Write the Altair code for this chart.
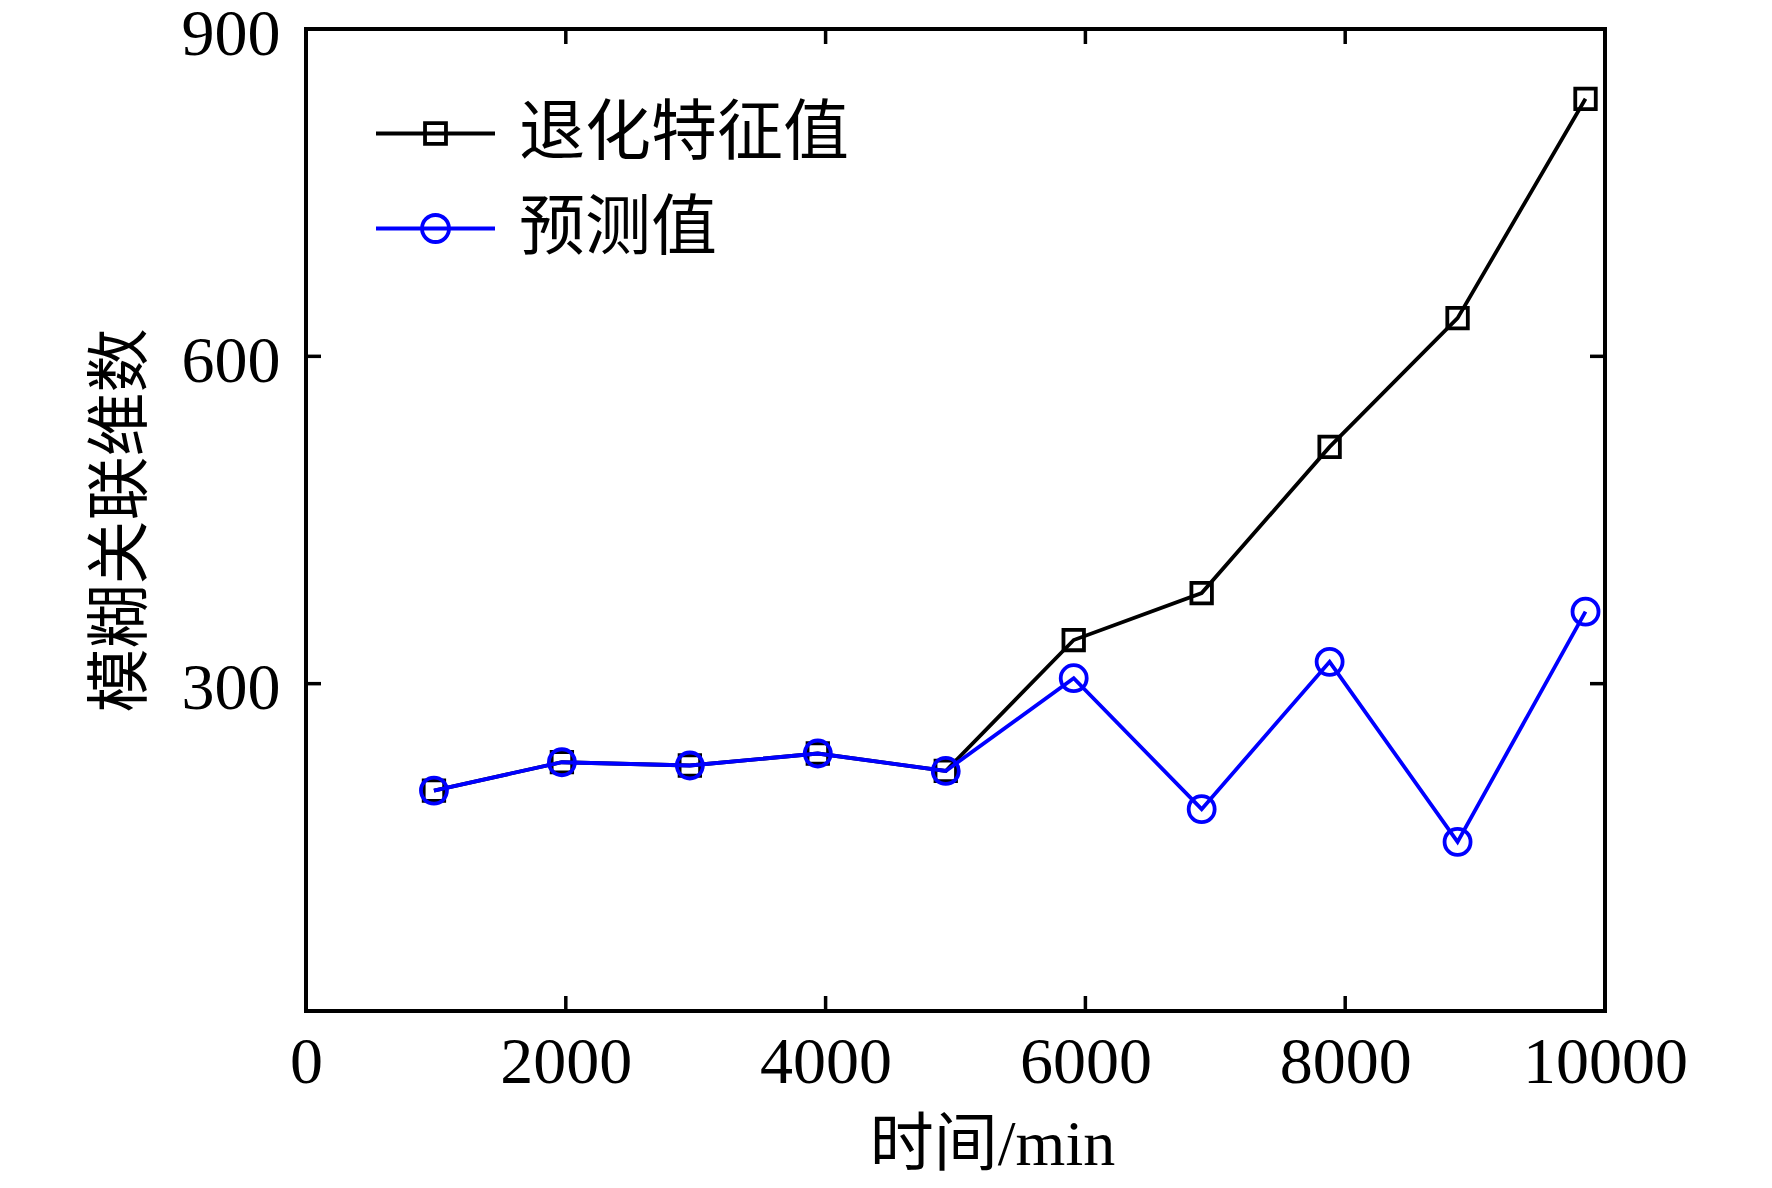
import altair as alt
import pandas as pd

# ---- data ----
times = [985, 1970, 2955, 3940, 4925, 5910, 6895, 7880, 8865, 9850]
degradation = [202, 228, 225, 236, 220, 340, 383, 517, 635, 836]
predicted = [202, 228, 225, 236, 220, 305, 185, 320, 155, 366]
series_names = ["退化特征值", "预测值"]
series_colors = ["#000000", "#0000ff"]
x_labels = [0, 2000, 4000, 6000, 8000, 10000]
y_labels = [300, 600, 900]
inner_x_ticks = [2000, 4000, 6000, 8000]
inner_y_ticks = [300, 600]

df = pd.DataFrame({
    "time": times * 2,
    "value": degradation + predicted,
    "series": [series_names[0]] * len(times) + [series_names[1]] * len(times),
})
xt = pd.DataFrame({"time": inner_x_ticks})
yt = pd.DataFrame({"value": inner_y_ticks})

W, H = 1299, 982
TICK = 15
FONT_NUM = "Liberation Serif"
FONT_CJK = "Liberation Serif, Noto Sans CJK SC"

xscale = alt.Scale(domain=[0, 10000], nice=False, zero=False)
yscale = alt.Scale(domain=[0, 900], nice=False, zero=False)

x_axis = alt.Axis(values=x_labels, format="d", title="时间/min", grid=False, domain=False,
                  ticks=False, tickSize=0, labelFont=FONT_NUM, labelFontSize=66,
                  labelColor="black", labelPadding=19, labelFlush=False,
                  titleFont=FONT_CJK, titleFontSize=64, titleFontWeight="normal",
                  titleColor="black", titleX=686, titleY=134, titleAlign="center",
                  titleBaseline="middle", titleAnchor="start")
y_axis = alt.Axis(values=y_labels, title="模糊关联维数", grid=False, domain=False,
                  ticks=False, tickSize=0, labelFont=FONT_NUM, labelFontSize=66,
                  labelColor="black", labelPadding=26, labelOffset=5, labelFlush=False,
                  titleFont=FONT_CJK, titleFontSize=64, titleFontWeight="normal",
                  titleColor="black", titleX=-185, titleY=491, titleAlign="center",
                  titleBaseline="middle", titleAnchor="start", titleAngle=270)

x_enc = alt.X("time:Q", scale=xscale, axis=x_axis)
y_enc = alt.Y("value:Q", scale=yscale, axis=y_axis)

base = alt.Chart(df)

black_line = base.transform_filter(alt.datum.series == series_names[0]).mark_line(
    color=series_colors[0], strokeWidth=3.8).encode(x=x_enc, y=y_enc)
black_pts = base.transform_filter(alt.datum.series == series_names[0]).mark_point(
    shape="square", size=420, filled=False, color=series_colors[0], strokeWidth=3.8,
    opacity=1).encode(x=x_enc, y=y_enc)
blue_line = base.transform_filter(alt.datum.series == series_names[1]).mark_line(
    color=series_colors[1], strokeWidth=3.8).encode(x=x_enc, y=y_enc)
blue_pts = base.transform_filter(alt.datum.series == series_names[1]).mark_point(
    shape="circle", size=676, filled=False, color=series_colors[1], strokeWidth=3.8,
    opacity=1).encode(x=x_enc, y=y_enc)

legend_paths = [
    "M-1,0H1M-0.176,-0.176H0.176V0.176H-0.176Z",
    "M-1,0H1M-0.227,0A0.227,0.227,0,1,0,0.227,0A0.227,0.227,0,1,0,-0.227,0Z",
]
leg = alt.Legend(title=None, orient="none", legendX=68, legendY=43, padding=0,
                 symbolSize=14161, symbolStrokeWidth=3.8, symbolOpacity=1,
                 labelFont=FONT_CJK, labelFontSize=66, labelColor="black",
                 labelOffset=22, labelLimit=1000, rowPadding=-27)
legend_layer = base.transform_filter("datum.value < 0").mark_point(
    filled=False, strokeWidth=3.8).encode(
    x=x_enc, y=y_enc,
    color=alt.Color("series:N", scale=alt.Scale(domain=series_names, range=series_colors), legend=leg),
    shape=alt.Shape("series:N", scale=alt.Scale(domain=series_names, range=legend_paths), legend=leg),
)

tick_bottom = alt.Chart(xt).mark_rule(color="black", strokeWidth=3.5).encode(
    x=x_enc, y=alt.value(H - TICK), y2=alt.value(H))
tick_top = alt.Chart(xt).mark_rule(color="black", strokeWidth=3.5).encode(
    x=x_enc, y=alt.value(0), y2=alt.value(TICK))
tick_left = alt.Chart(yt).mark_rule(color="black", strokeWidth=3.5).encode(
    y=y_enc, x=alt.value(0), x2=alt.value(TICK))
tick_right = alt.Chart(yt).mark_rule(color="black", strokeWidth=3.5).encode(
    y=y_enc, x=alt.value(W - TICK), x2=alt.value(W))

chart = alt.layer(
    tick_bottom, tick_top, tick_left, tick_right,
    black_line, black_pts, blue_line, blue_pts, legend_layer,
).properties(
    width=W, height=H,
    autosize=alt.AutoSizeParams(type="none"),
    padding={"left": 298, "top": 21, "right": 100, "bottom": 168},
    background="white",
).configure_view(stroke="black", strokeWidth=4)

chart.save("out.html", embed_options={"renderer": "svg", "actions": False})
